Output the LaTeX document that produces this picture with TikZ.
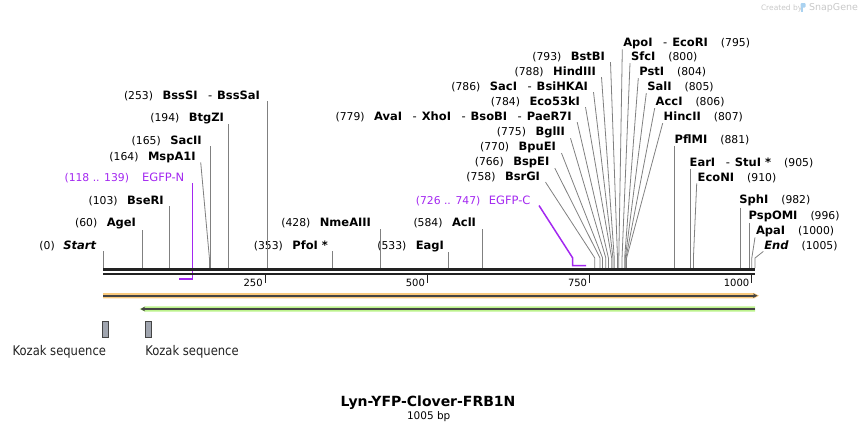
\documentclass[tikz,border=0pt]{standalone}
\usepackage{fontspec}
\setmainfont{DejaVu Sans}
\newfontfamily\kozakfont[FakeStretch=0.87]{DejaVu Sans}
\usetikzlibrary{arrows.meta}
\definecolor{cutgray}{RGB}{128,128,128}
\definecolor{barblack}{RGB}{34,34,34}
\definecolor{primer}{RGB}{163,40,240}
\definecolor{orangeband}{RGB}{250,202,125}
\definecolor{greenband}{RGB}{188,242,140}
\definecolor{featline}{RGB}{68,68,68}
\definecolor{kozakfill}{RGB}{160,165,175}
\definecolor{wmgray}{RGB}{200,200,200}
\definecolor{wmblue}{RGB}{170,210,240}
\newcommand\numtxt[1]{{\fontsize{10.8}{12}\selectfont(#1)}}
\newcommand\nametxt[1]{{\fontsize{11.5}{13}\selectfont\bfseries #1}}
\newcommand\italname[1]{{\fontsize{11.5}{13}\selectfont\bfseries\itshape #1}}
\newcommand\dashsep{\hspace{10.5pt}{\fontsize{11.5}{13}\selectfont -}\hspace{5pt}}
\newcommand\gapNL{\hspace{9.5pt}}
\newcommand\gapLN{\hspace{13pt}}
\newcommand\site[2]{\coordinate (k#1) at (#2,258); \coordinate (b#1) at (#2,268);}
\tikzset{
  lab/.style={inner sep=0pt, outer sep=0pt, text=black},
  cutline/.style={draw=cutgray, line width=0.8pt},
  primerline/.style={draw=primer, line width=1.5pt},
  ticklab/.style={inner sep=0pt, outer sep=0pt, font=\fontsize{10}{12}\selectfont, anchor=base east},
  kozakbox/.style={draw=featline, fill=kozakfill, line width=0.8pt, minimum width=6pt, minimum height=16.5pt, inner sep=0pt},
  kozaklab/.style={inner sep=0pt, outer sep=0pt, text=barblack, font=\fontsize{13.3}{15}\kozakfont}
}
\begin{document}
\begin{tikzpicture}[x=1pt,y=-1pt]
\useasboundingbox (0,0) rectangle (858,432);

% watermark
\node[lab, anchor=base west, text=wmgray, font=\fontsize{7.5}{9}\selectfont] (wm1) at (761,10.5) {Created by};
\fill[wmblue, rounded corners=1pt] (800.5,3) rectangle (805.5,7.5);
\fill[wmblue] (800.5,5) rectangle (802.5,11.5);
\node[lab, anchor=base west, text=wmgray, font=\fontsize{9.5}{11}\selectfont] (wm2) at (809,10.5) {SnapGene};

% site coordinates
\site{0}{103.0}
\site{60}{141.93}
\site{103}{169.83}
\site{164}{209.40}
\site{165}{210.05}
\site{194}{228.87}
\site{253}{267.15}
\site{353}{332.03}
\site{428}{380.69}
\site{533}{448.81}
\site{584}{481.90}
\site{758}{594.79}
\site{766}{599.98}
\site{770}{602.58}
\site{775}{605.82}
\site{779}{608.42}
\site{784}{611.66}
\site{786}{612.96}
\site{788}{614.25}
\site{793}{617.50}
\site{795}{618.80}
\site{800}{622.04}
\site{804}{624.64}
\site{805}{625.28}
\site{806}{625.93}
\site{807}{626.58}
\site{881}{674.59}
\site{905}{690.16}
\site{910}{693.41}
\site{982}{740.12}
\site{996}{749.20}
\site{1000}{751.80}
\site{1005}{755.04}

% left labels, vertical connectors
\node[lab,anchor=base east] (L0) at (96,249) {\numtxt{0}\hspace{8.5pt}\italname{Start}};
\node[lab,anchor=base east] (L60) at (136,226.7) {\numtxt{60}\gapNL\nametxt{AgeI}};
\node[lab,anchor=base east] (L103) at (163.7,204) {\numtxt{103}\gapNL\nametxt{BseRI}};
\node[lab,anchor=base east] (L164) at (195.7,160) {\numtxt{164}\gapNL\nametxt{MspA1I}};
\node[lab,anchor=base east] (L165) at (201.7,144) {\numtxt{165}\gapNL\nametxt{SacII}};
\node[lab,anchor=base east] (L194) at (224,121) {\numtxt{194}\gapNL\nametxt{BtgZI}};
\node[lab,anchor=base east] (L253) at (260,99) {\numtxt{253}\gapNL\nametxt{BssSI}\dashsep\nametxt{BssSaI}};
\node[lab,anchor=base east] (L353) at (328,249) {\numtxt{353}\gapNL\nametxt{PfoI *}};
\node[lab,anchor=base east] (L428) at (371,226.7) {\numtxt{428}\gapNL\nametxt{NmeAIII}};
\node[lab,anchor=base east] (L533) at (444,249) {\numtxt{533}\gapNL\nametxt{EagI}};
\node[lab,anchor=base east] (L584) at (476,226.7) {\numtxt{584}\gapNL\nametxt{AclI}};

\foreach \s in {0,60,103,165,194,253,353,428,533,584}
  \draw[cutline] ([shift={(0,1)}]k\s |- L\s.south) -- (b\s);
\draw[cutline] ([shift={(5,0)}]L164.south east) -- (k164) -- (b164);

% left cluster labels
\node[lab,anchor=base east] (L758) at (540,180.7) {\numtxt{758}\gapNL\nametxt{BsrGI}};
\node[lab,anchor=base east] (L766) at (549.3,165.7) {\numtxt{766}\gapNL\nametxt{BspEI}};
\node[lab,anchor=base east] (L770) at (556,150.7) {\numtxt{770}\gapNL\nametxt{BpuEI}};
\node[lab,anchor=base east] (L775) at (565,135.7) {\numtxt{775}\gapNL\nametxt{BglII}};
\node[lab,anchor=base east] (L779) at (571.7,120.7) {\numtxt{779}\gapNL\nametxt{AvaI}\dashsep\nametxt{XhoI}\dashsep\nametxt{BsoBI}\dashsep\nametxt{PaeR7I}};
\node[lab,anchor=base east] (L784) at (580,105.7) {\numtxt{784}\gapNL\nametxt{Eco53kI}};
\node[lab,anchor=base east] (L786) at (588,90.7) {\numtxt{786}\gapNL\nametxt{SacI}\dashsep\nametxt{BsiHKAI}};
\node[lab,anchor=base east] (L788) at (596,75.7) {\numtxt{788}\gapNL\nametxt{HindIII}};
\node[lab,anchor=base east] (L793) at (605,60.7) {\numtxt{793}\gapNL\nametxt{BstBI}};
\foreach \s in {758,766,770,775,779,784,786,788,793}
  \draw[cutline] ([shift={(5.5,0)}]L\s.south east) -- (k\s) -- (b\s);

% right labels
\node[lab,anchor=base west] (R795) at (623.3,46) {\nametxt{ApoI}\dashsep\nametxt{EcoRI}\gapLN\numtxt{795}};
\node[lab,anchor=base west] (R800) at (631,60.7) {\nametxt{SfcI}\gapLN\numtxt{800}};
\node[lab,anchor=base west] (R804) at (639.3,75.7) {\nametxt{PstI}\gapLN\numtxt{804}};
\node[lab,anchor=base west] (R805) at (647.3,90.7) {\nametxt{SalI}\gapLN\numtxt{805}};
\node[lab,anchor=base west] (R806) at (655.7,105.7) {\nametxt{AccI}\gapLN\numtxt{806}};
\node[lab,anchor=base west] (R807) at (663.7,120.7) {\nametxt{HincII}\gapLN\numtxt{807}};
\node[lab,anchor=base west] (R881) at (674.7,143.3) {\nametxt{PflMI}\gapLN\numtxt{881}};
\node[lab,anchor=base west] (R905) at (689.7,166) {\nametxt{EarI}\dashsep\nametxt{StuI *}\gapLN\numtxt{905}};
\node[lab,anchor=base west] (R910) at (697.7,181) {\nametxt{EcoNI}\gapLN\numtxt{910}};
\node[lab,anchor=base west] (R982) at (739.3,203.7) {\nametxt{SphI}\gapLN\numtxt{982}};
\node[lab,anchor=base west] (R996) at (748.7,219) {\nametxt{PspOMI}\gapLN\numtxt{996}};
\node[lab,anchor=base west] (R1000) at (756,234) {\nametxt{ApaI}\gapLN\numtxt{1000}};
\node[lab,anchor=base west] (R1005) at (764.3,249) {\italname{End}\gapLN\numtxt{1005}};
\foreach \s in {795,800,804,805,806,807,910,1000,1005}
  \draw[cutline] ([shift={(-1,1)}]R\s.south west) -- (k\s) -- (b\s);
\foreach \s in {881,905,982,996}
  \draw[cutline] ([shift={(0,1.5)}]k\s |- R\s.south) -- (b\s);

% primers
\node[lab,anchor=base east,text=primer] (PN) at (184.3,181) {\numtxt{118 .. 139}\hspace{13pt}{\fontsize{11.5}{13}\selectfont EGFP-N}};
\draw[primerline] ([shift={(8,2)}]PN.base east) -- ++(0,96) -- ++(-13.8,0);
\node[lab,anchor=base east,text=primer] (PC) at (530.5,204) {\numtxt{726 .. 747}\hspace{8.5pt}{\fontsize{11.5}{13}\selectfont EGFP-C}};
\draw[primerline] ([shift={(8.5,1.5)}]PC.base east) -- ++(33.7,52.5) -- ++(0,7.7) -- ++(13.3,0);

% sequence bar
\coordinate (barL) at (103,269.5);
\coordinate (barR) at (755,269.5);
\draw[barblack, line width=2.4pt] (barL) -- (barR);
\draw[barblack, line width=2.6pt] ([shift={(0,4.5)}]barL) -- ([shift={(0,4.5)}]barR);

% ticks
\foreach \t/\xx in {250/265.2,500/427.4,750/589.6,1000/751.8}{
  \draw[barblack, line width=1.2pt] (\xx,275) -- (\xx,283);
  \node[ticklab] (t\t) at (\xx-2.5,286) {\t};
}

% features
\fill[orangeband] (103,293) -- (754,293) -- (759,295.7) -- (754,298.4) -- (103,298.4) -- cycle;
\coordinate (oL) at (103,295.7);
\coordinate (oR) at (757.5,295.7);
\draw[featline, line width=1.8pt, -{Stealth[length=4.5pt,width=4.5pt]}] (oL) -- (oR);
\fill[greenband] (755,306.4) -- (145,306.4) -- (139.5,309) -- (145,311.7) -- (755,311.7) -- cycle;
\coordinate (gR) at (755,309);
\coordinate (gL) at (140.5,309);
\draw[featline, line width=1.8pt, -{Stealth[length=4.5pt,width=4.5pt]}] (gR) -- (gL);

% Kozak
\node[kozakbox] (kz1) at (105.6,329.2) {};
\node[kozakbox] (kz2) at (148.7,329.2) {};
\node[kozaklab, anchor=base east] (kzl1) at (106,355.7) {Kozak sequence};
\node[kozaklab, anchor=base west] (kzl2) at (145.3,355.7) {Kozak sequence};

% title
\node[lab, anchor=base] (title) at (428,406.7) {\fontsize{14}{16}\selectfont\bfseries Lyn-YFP-Clover-FRB1N};
\node[lab, anchor=base] (len) at (428.7,419) {\fontsize{10.5}{12}\selectfont 1005 bp};
\end{tikzpicture}
\end{document}
